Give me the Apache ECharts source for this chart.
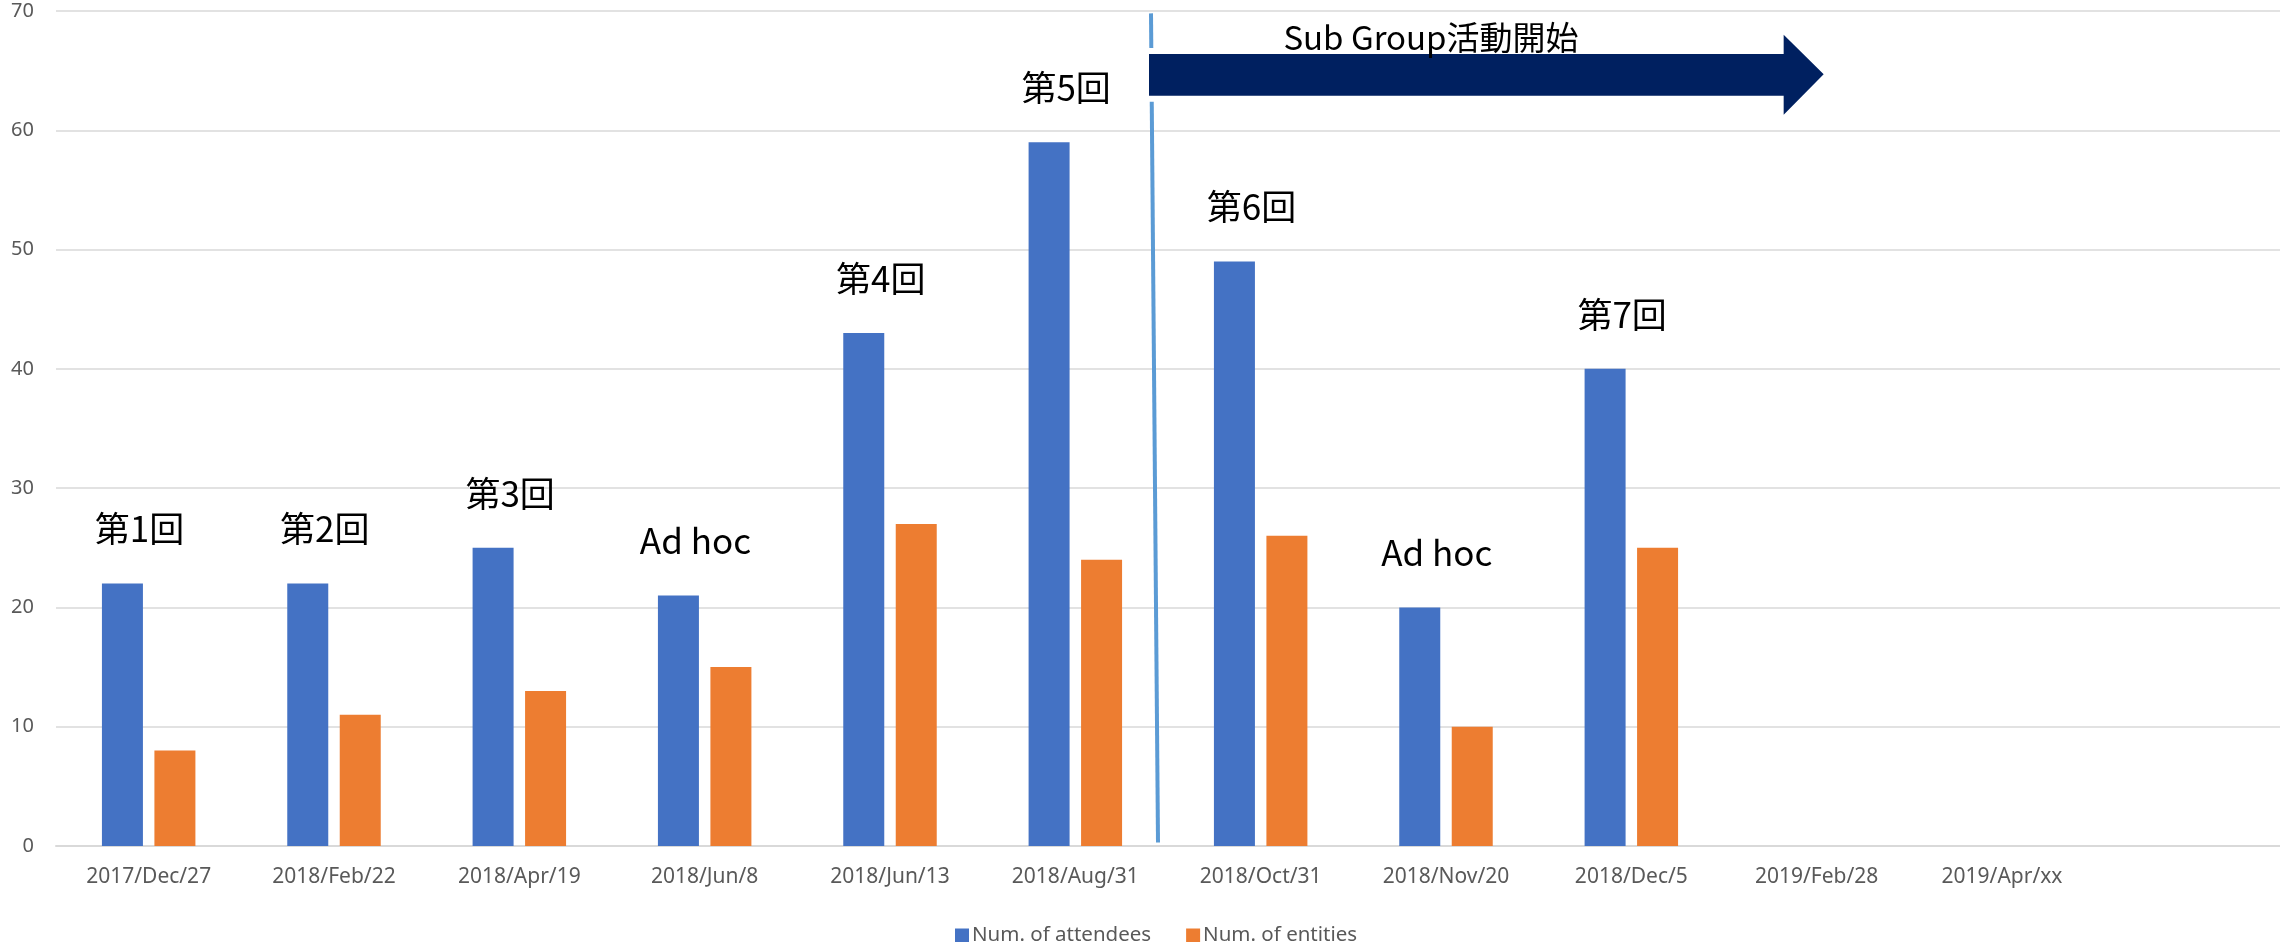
<!DOCTYPE html>
<html>
<head>
<meta charset="utf-8">
<script src="https://cdn.jsdelivr.net/npm/echarts@6/dist/echarts.min.js"></script>
<style>
  html, body { margin: 0; padding: 0; background: #ffffff; }
  #chart { width: 2280px; height: 942px; }
</style>
</head>
<body>
<div id="chart"></div>
<script>
// ---- data ----
const categories = ['2017/Dec/27', '2018/Feb/22', '2018/Apr/19', '2018/Jun/8', '2018/Jun/13',
  '2018/Aug/31', '2018/Oct/31', '2018/Nov/20', '2018/Dec/5', '2019/Feb/28', '2019/Apr/xx', ''];
const attendees = [22, 22, 25, 21, 43, 59, 49, 20, 40, null, null, null];
const entities = [8, 11, 13, 15, 27, 24, 26, 10, 25, null, null, null];
const sessionLabels = ['第1回', '第2回', '第3回', 'Ad hoc', '第4回', '第5回', '第6回', 'Ad hoc', '第7回', '', '', ''];
const seriesNames = ['Num. of attendees', 'Num. of entities'];
const yMin = 0, yMax = 70, yInterval = 10;
const subGroupText = 'Sub Group活動開始';
const subGroupStartIndex = 6;   // sub group activity starts before this category
const arrowEndIndex = 9;        // arrow reaches this category

const chart = echarts.init(document.getElementById('chart'), null, { renderer: 'canvas' });
const axisGrey = '#595959';
const gridGrey = '#D9D9D9';

chart.setOption({
  animation: false,
  backgroundColor: '#ffffff',
  grid: { left: 56, right: 0, top: 11, bottom: 96, containLabel: false },
  legend: {
    data: seriesNames,
    left: 950,
    top: 920,
    itemWidth: 14,
    itemHeight: 14,
    itemGap: 35,
    icon: 'rect',
    textStyle: { color: axisGrey, fontSize: 20.5, fontFamily: 'Noto Sans', padding: [0, 0, 0, -2] }
  },
  xAxis: {
    type: 'category',
    data: categories,
    axisTick: { show: false },
    axisLine: { show: true, lineStyle: { color: gridGrey, width: 2 } },
    axisLabel: { color: axisGrey, fontSize: 21, fontFamily: 'Noto Sans', margin: 21, interval: 0 }
  },
  yAxis: {
    type: 'value',
    min: yMin, max: yMax, interval: yInterval,
    axisLine: { show: false },
    axisTick: { show: false },
    splitLine: { lineStyle: { color: gridGrey, width: 1.5 } },
    axisLabel: { color: axisGrey, fontSize: 20, fontFamily: 'Noto Sans', margin: 22 }
  },
  series: [
    {
      name: seriesNames[0],
      type: 'bar',
      data: attendees,
      barWidth: 41,
      barGap: '28%',
      itemStyle: { color: '#4472C4' },
      label: {
        show: true,
        position: 'top',
        distance: 37,
        offset: [17, 0],
        color: '#000000',
        fontSize: 35,
        fontFamily: 'Noto Sans CJK JP',
        formatter: (p) => sessionLabels[p.dataIndex] || ''
      }
    },
    {
      name: seriesNames[1],
      type: 'bar',
      data: entities,
      barWidth: 41,
      itemStyle: { color: '#ED7D31' }
    }
  ]
});

// ---- annotation: vertical separator & arrow, positioned through the chart's own scales ----
const xPix = (i) => chart.convertToPixel({ xAxisIndex: 0 }, categories[i]);
const yPix = (v) => chart.convertToPixel({ yAxisIndex: 0 }, v);
const boundary = (xPix(subGroupStartIndex - 1) + xPix(subGroupStartIndex)) / 2;
const lineTopX = boundary - 17;
const lineBotX = boundary - 10;
const tipX = xPix(arrowEndIndex) + 7;
const headBaseX = tipX - 40;
const arrowPoints = [
  [lineTopX - 2, yPix(66.4)],
  [headBaseX, yPix(66.4)],
  [headBaseX, yPix(68.0)],
  [tipX, yPix(64.7)],
  [headBaseX, yPix(61.3)],
  [headBaseX, yPix(62.9)],
  [lineTopX - 2, yPix(62.9)]
];

chart.setOption({
  graphic: [
    {
      type: 'line',
      shape: { x1: lineTopX, y1: yPix(69.8), x2: lineBotX, y2: yPix(0.3) },
      style: { stroke: '#5B9BD5', lineWidth: 4 },
      z: 100
    },
    {
      type: 'polygon',
      shape: { points: arrowPoints },
      style: { fill: '#ffffff', stroke: '#ffffff', lineWidth: 12 },
      z: 101
    },
    {
      type: 'polygon',
      shape: { points: arrowPoints },
      style: { fill: '#002060' },
      z: 102
    },
    {
      type: 'text',
      x: lineTopX + 280,
      y: yPix(67.8),
      style: {
        text: subGroupText,
        fill: '#000000',
        fontSize: 33,
        fontFamily: 'Noto Sans CJK JP',
        textAlign: 'center',
        textVerticalAlign: 'middle'
      },
      z: 103
    }
  ]
});
</script>
</body>
</html>
